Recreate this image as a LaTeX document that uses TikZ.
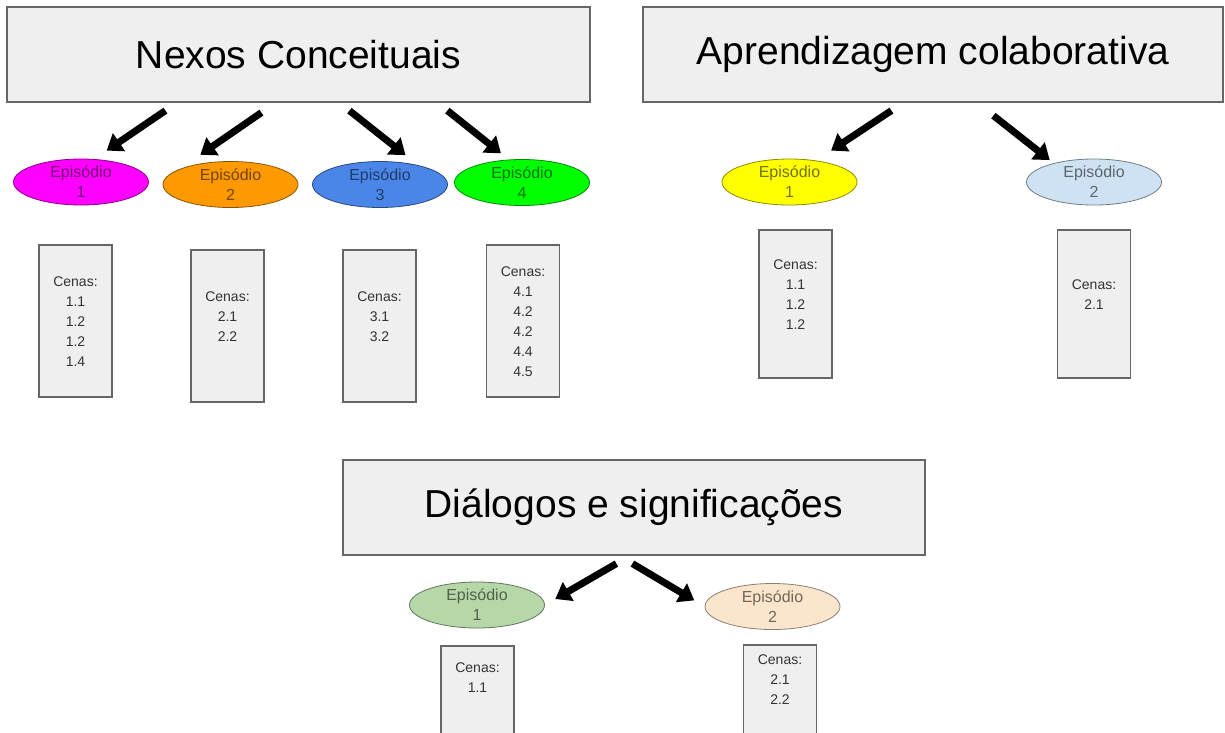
\documentclass[tikz,border=0pt]{standalone}
\usepackage{fontspec}
\setmainfont{Liberation Sans}
\usetikzlibrary{arrows.meta,calc,positioning,shapes.geometric}
\definecolor{boxGray}{HTML}{EFEFEF}
\definecolor{edgeGray}{HTML}{666666}
\definecolor{cenaInk}{HTML}{333333}
\definecolor{epMagenta}{HTML}{FF00FF}
\definecolor{epOrange}{HTML}{FF9900}
\definecolor{epBlue}{HTML}{4A86E8}
\definecolor{epGreen}{HTML}{00FF00}
\definecolor{epYellow}{HTML}{FFFF00}
\definecolor{epSky}{HTML}{CFE2F3}
\definecolor{epSage}{HTML}{B6D7A8}
\definecolor{epPeach}{HTML}{FCE5CD}
\tikzset{
  theme box/.style={
    draw=edgeGray,
    fill=boxGray,
    line width=1.2pt,
    minimum width=#1,
    minimum height=95pt,
    inner sep=0pt,
    font=\fontsize{39}{47}\selectfont
  },
  theme box/.default=580pt,
  episode/.style={
    ellipse,
    draw=#1!55!black,
    fill=#1,
    text=#1!45!black,
    line width=0.8pt,
    minimum width=135pt,
    minimum height=46pt,
    inner sep=0pt,
    align=center,
    font=\fontsize{16}{20}\selectfont
  },
  cena box/.style={
    draw=edgeGray,
    fill=boxGray,
    line width=1.2pt,
    minimum width=73pt,
    minimum height=#1,
    inner sep=0pt
  },
  cena box/.default=152pt,
  cena list/.style={
    inner sep=0pt,
    align=center,
    text=cenaInk,
    font=\fontsize{14}{20}\selectfont
  },
  flow arrow/.style={
    -{Triangle[length=15pt,width=21pt]},
    line width=7pt,
    draw=black
  }
}
\begin{document}
\begin{tikzpicture}[x=1pt,y=-1pt]
  \useasboundingbox (0,0) rectangle (1225,732);
  \clip (0,0) rectangle (1225,732);
  \fill[white] (0,0) rectangle (1225,732);

  % theme boxes
  \node[theme box=583pt] (nexos) at (298.5,54.5) {Nexos Conceituais};
  \node[theme box=580pt] (aprend) at (933,54.5) {Aprendizagem colaborativa};
  \node[theme box=582pt] (dialog) at (634,507.5) {Diálogos e significações};

  % episodes
  \node[episode=epMagenta] (nc-ep1) at (81,182) {Episódio\\1};
  \node[episode=epOrange] (nc-ep2) at (230.5,184.5) {Episódio\\2};
  \node[episode=epBlue] (nc-ep3) at (380,184.5) {Episódio\\3};
  \node[episode=epGreen] (nc-ep4) at (522,182.5) {Episódio\\4};
  \node[episode=epYellow] (ac-ep1) at (789.5,182) {Episódio\\1};
  \node[episode=epSky] (ac-ep2) at (1094,182) {Episódio\\2};
  \node[episode=epSage] (ds-ep1) at (477,605) {Episódio\\1};
  \node[episode=epPeach] (ds-ep2) at (772.5,606.5) {Episódio\\2};

  % scene boxes
  \node[cena box] (nc-cenas1) at (75.5,321) {};
  \node[cena box] (nc-cenas2) at (227.5,326) {};
  \node[cena box] (nc-cenas3) at (379.5,326) {};
  \node[cena box] (nc-cenas4) at (523,321) {};
  \node[cena box=148pt] (ac-cenas1) at (795.5,304) {};
  \node[cena box=148pt] (ac-cenas2) at (1094,304) {};
  \node[cena box] (ds-cenas1) at (477.5,722) {};
  \node[cena box] (ds-cenas2) at (780,721) {};

  \node[cena list,below=32pt of nc-cenas1.north] (nc-list1) {Cenas:\\1.1\\1.2\\1.2\\1.4};
  \node[cena list,below=42pt of nc-cenas2.north] (nc-list2) {Cenas:\\2.1\\2.2};
  \node[cena list,below=42pt of nc-cenas3.north] (nc-list3) {Cenas:\\3.1\\3.2};
  \node[cena list,below=22pt of nc-cenas4.north] (nc-list4) {Cenas:\\4.1\\4.2\\4.2\\4.4\\4.5};
  \node[cena list,below=30pt of ac-cenas1.north] (ac-list1) {Cenas:\\1.1\\1.2\\1.2};
  \node[cena list,below=50pt of ac-cenas2.north] (ac-list2) {Cenas:\\2.1};
  \node[cena list,below=17pt of ds-cenas1.north] (ds-list1) {Cenas:\\1.1};
  \node[cena list,below=10pt of ds-cenas2.north] (ds-list2) {Cenas:\\2.1\\2.2};

  % arrow tails under the theme boxes
  \coordinate (nexos-t1) at ($(nexos.south west)+(159,8)$);
  \coordinate (nexos-t2) at ($(nexos.south west)+(255,10)$);
  \coordinate (nexos-t3) at ($(nexos.south west)+(343,8)$);
  \coordinate (nexos-t4) at ($(nexos.south west)+(441,8)$);
  \coordinate (aprend-t1) at ($(aprend.south west)+(249,8)$);
  \coordinate (aprend-t2) at ($(aprend.south west)+(351,13)$);
  \coordinate (dialog-t1) at ($(dialog.south west)+(274,8)$);
  \coordinate (dialog-t2) at ($(dialog.south west)+(290,8)$);

  \draw[flow arrow,shorten >=15pt] (nexos-t1) -- (nc-ep1.60);
  \draw[flow arrow,shorten >=25pt] (nexos-t2) -- (nc-ep2.163);
  \draw[flow arrow,shorten >=16pt] (nexos-t3) -- (nc-ep3.27);
  \draw[flow arrow,shorten >=10pt] (nexos-t4) -- (nc-ep4.120);
  \draw[flow arrow,shorten >=18pt] (aprend-t1) -- (ac-ep1.39);
  \draw[flow arrow,shorten >=5pt] (aprend-t2) -- (ac-ep2.155);
  \draw[flow arrow,shorten >=12pt] (dialog-t1) -- (ds-ep1.east);
  \draw[flow arrow,shorten >=12pt] (dialog-t2) -- (ds-ep2.west);
\end{tikzpicture}
\end{document}
